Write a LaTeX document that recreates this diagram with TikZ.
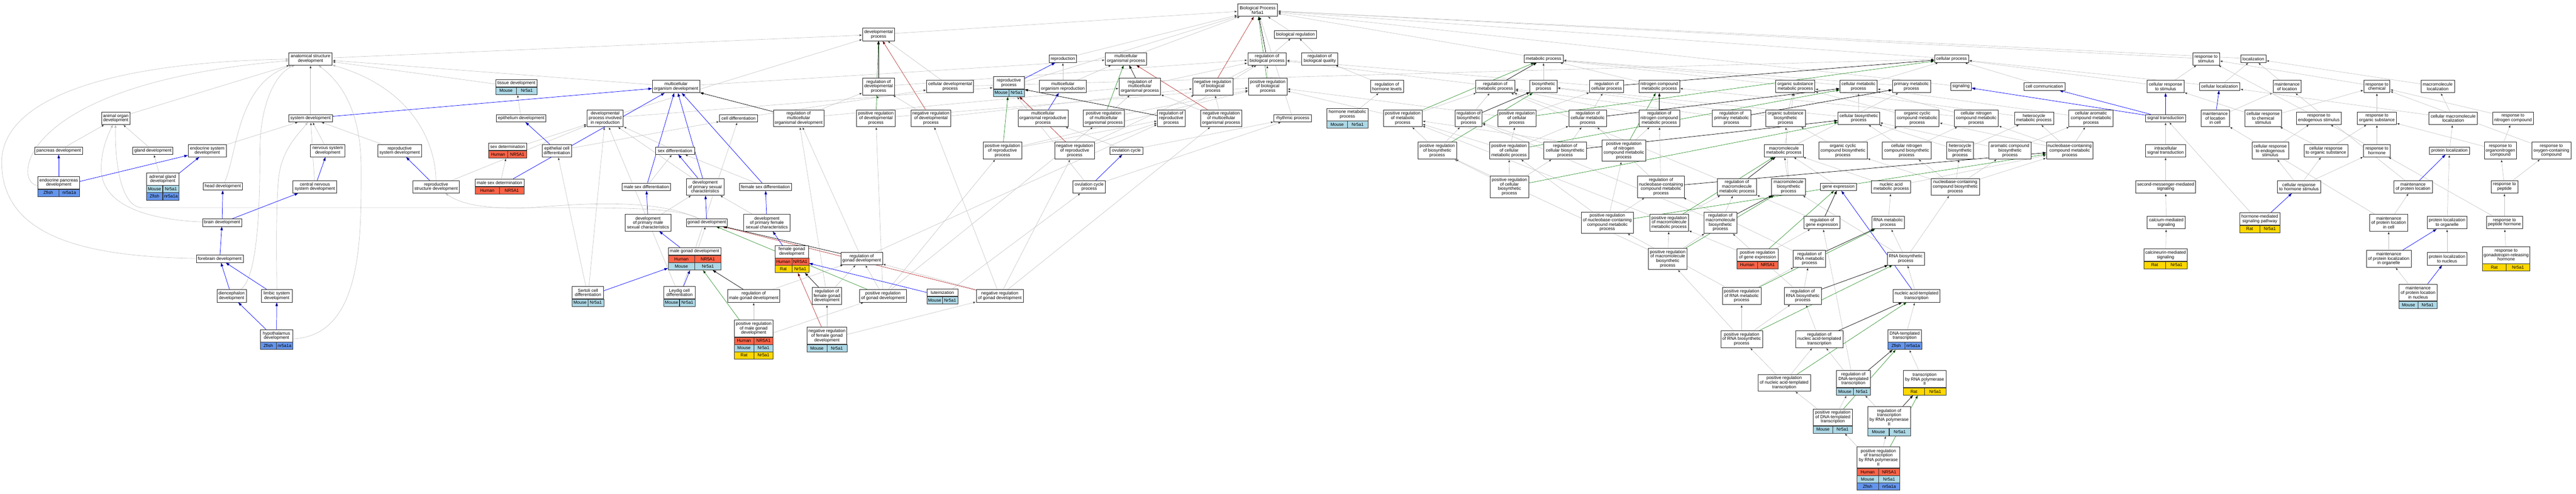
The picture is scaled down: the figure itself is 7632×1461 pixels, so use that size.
\documentclass[tikz,border=0pt]{standalone}
\usepackage{fontspec}
\setmainfont{Liberation Sans}
\usetikzlibrary{arrows.meta}
\usetikzlibrary{backgrounds}
\usetikzlibrary{fit}

\definecolor{human}{HTML}{FF6347}
\definecolor{mouse}{HTML}{ADD8E6}
\definecolor{zfish}{HTML}{6495ED}
\definecolor{rat}{HTML}{FFD700}
\definecolor{isagray}{HTML}{BEBEBE}
\definecolor{posgreen}{HTML}{228B22}
\definecolor{negred}{HTML}{B22222}

% one row of the gene table under a term: node, row, width, colour, species, gene
\newcommand{\orth}[6]{%
  \node[cell,fill=#4,minimum width={#3*0.5pt},anchor=north west,yshift={-(#2-1)*21.5pt}] (#1-#2a) at (#1-h.south west) {#5};
  \node[cell,fill=#4,minimum width={#3*0.5pt},anchor=north east,yshift={-(#2-1)*21.5pt}] (#1-#2b) at (#1-h.south east) {#6};}
\newcommand{\wrap}[2]{\node[fit=(#1-h)(#1-#2b),inner sep=0pt] (#1) {};}

\begin{document}
\begin{tikzpicture}[x=1pt,y=-1pt,
    sz/.style 2 args={minimum width=#1pt,minimum height=#2pt},
    cell/.style={draw=black!80,line width=0.8pt,inner sep=0pt,minimum height=21.5pt,font=\fontsize{13}{13.2}\selectfont},
    isa/.style={>={Triangle[length=9pt,width=6.5pt]},->,draw=isagray,line width=0.9pt},
    partof/.style={>={Triangle[length=11pt,width=7.5pt]},->,draw=blue,line width=1.1pt},
    posreg/.style={>={Triangle[length=10pt,width=7pt]},->,draw=posgreen,line width=1pt},
    negreg/.style={>={Triangle[length=10pt,width=7pt]},->,draw=negred,line width=1pt},
    regl/.style={>={Triangle[length=10pt,width=7pt]},->,draw=black,line width=1.1pt}]
  \useasboundingbox (0,0) rectangle (7632,1461);

  \begin{scope}[every node/.style={draw=black!85,line width=1.1pt,fill=white,inner sep=0pt,align=center,font=\fontsize{13}{13.2}\selectfont}]
    % development branch
    \node (asd) at (920,174) [sz={128}{37}] {anatomical structure\\development};
    \node (aod) at (343,350) [sz={84}{37}] {animal organ\\development};
    \node (sysdev) at (920,350) [sz={130}{22}] {system development};
    \node (pancdev) at (174,446) [sz={141}{22}] {pancreas development};
    \node (glanddev) at (453,446) [sz={119}{22}] {gland development};
    \node (endosys) at (614,446) [sz={113}{37}] {endocrine system\\development};
    \node (nervsys) at (971,446) [sz={102}{37}] {nervous system\\development};
    \node (reprosys) at (1184,446) [sz={130}{37}] {reproductive\\system development};
    \node (endopanc-h) at (174,541) [sz={124}{36}] {endocrine pancreas\\development};
    \node (adrenal-h) at (482,530) [sz={97}{36}] {adrenal gland\\development};
    \node (headdev) at (660,552) [sz={116}{22}] {head development};
    \node (cns) at (933,553) [sz={130}{37}] {central nervous\\system development};
    \node (reprostruct) at (1292,553) [sz={138}{37}] {reproductive\\structure development};
    \node (braindev) at (658,659) [sz={116}{22}] {brain development};
    \node (forebrain) at (651,766) [sz={139}{22}] {forebrain development};
    \node (dienceph) at (686,876) [sz={87}{37}] {diencephalon\\development};
    \node (limbic) at (820,876) [sz={91}{37}] {limbic system\\development};
    \node (hypothal-h) at (819,994) [sz={96}{36}] {hypothalamus\\development};

    \node (tissuedev-h) at (1530,246) [sz={123}{22}] {tissue development};
    \node (mod) at (2003,256) [sz={141}{37}] {multicellular\\organism development};
    \node (epithdev) at (1544,350) [sz={146}{22}] {epithelium development};
    \node (dpir) at (1793,350) [sz={107}{50}] {developmental\\process involved\\in reproduction};
    \node (celldiff) at (2188,350) [sz={112}{22}] {cell differentiation};
    \node (regmod) at (2366,350) [sz={150}{50}] {regulation of\\multicellular\\organismal development};
    \node (sexdet-h) at (1504,434) [sz={113}{22}] {sex determination};
    \node (epicelldiff) at (1650,446) [sz={87}{37}] {epithelial cell\\differentiation};
    \node (sexdiff) at (2000,446) [sz={115}{22}] {sex differentiation};
    \node (malesexdet-h) at (1480,541) [sz={145}{22}] {male sex determination};
    \node (malesexdiff) at (1915,553) [sz={144}{22}] {male sex differentiation};
    \node (dpsc) at (2089,553) [sz={111}{50}] {development\\of primary sexual\\characteristics};
    \node (femsexdiff) at (2268,553) [sz={155}{22}] {female sex differentiation};
    \node (dpmsc) at (1920,659) [sz={137}{50}] {development\\of primary male\\sexual characteristics};
    \node (gonaddev) at (2094,659) [sz={122}{22}] {gonad development};
    \node (dpfsc) at (2272,659) [sz={137}{50}] {development\\of primary female\\sexual characteristics};
    \node (malegonad-h) at (2058,744) [sz={156}{22}] {male gonad development};
    \node (femgonad-h) at (2346,745) [sz={100}{36}] {female gonad\\development};
    \node (reggonad) at (2553,765) [sz={123}{37}] {regulation of\\gonad development};
    \node (sertoli-h) at (1742,866) [sz={93}{36}] {Sertoli cell\\differentiation};
    \node (leydig-h) at (2013,866) [sz={93}{36}] {Leydig cell\\differentiation};
    \node (regmalegonad) at (2233,876) [sz={155}{37}] {regulation of\\male gonad development};
    \node (regfemgonad) at (2450,876) [sz={87}{50}] {regulation of\\female gonad\\development};
    \node (posregmalegonad-h) at (2233,972) [sz={115}{50}] {positive regulation\\of male gonad\\development};
    \node (negregfemgonad-h) at (2450,994) [sz={118}{50}] {negative regulation\\of female gonad\\development};
    \node (posreggonad) at (2616,876) [sz={138}{37}] {positive regulation\\of gonad development};
    \node (luteinization-h) at (2792,866) [sz={91}{22}] {luteinization};
    \node (negreggonad) at (2962,876) [sz={139}{37}] {negative regulation\\of gonad development};

    % top of the graph
    \node (devproc) at (2603,102) [sz={95}{37}] {developmental\\process};
    \node (bp) at (3726,30) [sz={118}{37}] {Biological Process\\Nr5a1};
    \node (bioreg) at (3838,102) [sz={125}{22}] {biological regulation};
    \node (reproduction) at (3149,174) [sz={80}{22}] {reproduction};
    \node (mop) at (3336,174) [sz={123}{37}] {multicellular\\organismal process};
    \node (regbp) at (3754,174) [sz={114}{37}] {regulation of\\biological process};
    \node (regbq) at (3910,174) [sz={107}{37}] {regulation of\\biological quality};
    \node (regdevproc) at (2603,256) [sz={95}{50}] {regulation of\\developmental\\process};
    \node (celldevproc) at (2815,256) [sz={139}{37}] {cellular developmental\\process};
    \node (reproproc-h) at (2989,245) [sz={92}{36}] {reproductive\\process};
    \node (mor) at (3149,256) [sz={139}{37}] {multicellular\\organism reproduction};
    \node (regmop) at (3377,256) [sz={123}{50}] {regulation of\\multicellular\\organismal process};
    \node (negregbp) at (3593,256) [sz={119}{50}] {negative regulation\\of biological\\process};
    \node (posregbp) at (3756,256) [sz={114}{50}] {positive regulation\\of biological\\process};
    \node (posregdevproc) at (2595,350) [sz={115}{50}] {positive regulation\\of developmental\\process};
    \node (negregdevproc) at (2758,350) [sz={118}{50}] {negative regulation\\of developmental\\process};
    \node (morp) at (3090,350) [sz={148}{50}] {multicellular\\organismal reproductive\\process};
    \node (posregmop) at (3270,350) [sz={123}{50}] {positive regulation\\of multicellular\\organismal process};
    \node (regreproproc) at (3470,350) [sz={82}{50}] {regulation of\\reproductive\\process};
    \node (negregmop) at (3618,350) [sz={123}{50}] {negative regulation\\of multicellular\\organismal process};
    \node (rhythmic) at (3830,350) [sz={111}{22}] {rhythmic process};
    \node (posregreproproc) at (2970,446) [sz={115}{50}] {positive regulation\\of reproductive\\process};
    \node (negregreproproc) at (3184,446) [sz={118}{50}] {negative regulation\\of reproductive\\process};
    \node (ovcycle) at (3337,446) [sz={97}{22}] {ovulation cycle};
    \node (ovcycleproc) at (3227,553) [sz={96}{37}] {ovulation cycle\\process};

    % metabolism
    \node (metproc) at (4573,174) [sz={116}{22}] {metabolic process};
    \node (reghormone) at (4109,256) [sz={98}{37}] {regulation of\\hormone levels};
    \node (regmetproc) at (4430,256) [sz={116}{37}] {regulation of\\metabolic process};
    \node (biosynproc) at (4573,256) [sz={80}{37}] {biosynthetic\\process};
    \node (regcellproc) at (4760,256) [sz={100}{37}] {regulation of\\cellular process};
    \node (ncmp) at (4916,256) [sz={120}{37}] {nitrogen compound\\metabolic process};
    \node (hormonemet-h) at (3992,339) [sz={121}{36}] {hormone metabolic\\process};
    \node (posregmetproc) at (4156,350) [sz={114}{50}] {positive regulation\\of metabolic\\process};
    \node (regbiosyn) at (4351,350) [sz={80}{50}] {regulation of\\biosynthetic\\process};
    \node (posregcellproc) at (4494,350) [sz={114}{50}] {positive regulation\\of cellular\\process};
    \node (regcellmet) at (4704,350) [sz={111}{50}] {regulation of\\cellular metabolic\\process};
    \node (regncmp) at (4916,350) [sz={120}{50}] {regulation of\\nitrogen compound\\metabolic process};
    \node (posregbiosyn) at (4258,446) [sz={115}{50}] {positive regulation\\of biosynthetic\\process};
    \node (posregcellmet) at (4471,446) [sz={116}{50}] {positive regulation\\of cellular\\metabolic process};
    \node (regcellbiosyn) at (4637,446) [sz={126}{50}] {regulation of\\cellular biosynthetic\\process};
    \node (posregncmp) at (4811,446) [sz={130}{63}] {positive regulation\\of nitrogen\\compound metabolic\\process};
    \node (posregcellbiosyn) at (4472,553) [sz={114}{63}] {positive regulation\\of cellular\\biosynthetic\\process};
    \node (regnccmp) at (4921,553) [sz={138}{63}] {regulation of\\nucleobase-containing\\compound metabolic\\process};
    \node (posregnccmp) at (4762,659) [sz={155}{63}] {positive regulation\\of nucleobase-containing\\compound metabolic\\process};
    \node (posregmmp) at (4945,659) [sz={115}{50}] {positive regulation\\of macromolecule\\metabolic process};
    \node (regmbp) at (5097,659) [sz={98}{63}] {regulation of\\macromolecule\\biosynthetic\\process};
    \node (posregmbp) at (4941,766) [sz={115}{63}] {positive regulation\\of macromolecule\\biosynthetic\\process};

    \node (cellproc) at (5782,174) [sz={101}{22}] {cellular process};
    \node (osmp) at (5319,256) [sz={116}{37}] {organic substance\\metabolic process};
    \node (cellmet) at (5506,256) [sz={110}{37}] {cellular metabolic\\process};
    \node (primmet) at (5663,256) [sz={113}{37}] {primary metabolic\\process};
    \node (signaling) at (5810,256) [sz={61}{22}] {signaling};
    \node (cellcomm) at (6057,256) [sz={123}{22}] {cell communication};
    \node (regprimmet) at (5130,350) [sz={114}{50}] {regulation of\\primary metabolic\\process};
    \node (osbp) at (5290,350) [sz={117}{50}] {organic substance\\biosynthetic\\process};
    \node (cellbiosyn) at (5507,350) [sz={123}{37}] {cellular biosynthetic\\process};
    \node (occmp) at (5680,350) [sz={130}{50}] {organic cyclic\\compound metabolic\\process};
    \node (cncmp) at (5855,350) [sz={131}{50}] {cellular nitrogen\\compound metabolic\\process};
    \node (hetmet) at (6026,350) [sz={116}{37}] {heterocycle\\metabolic process};
    \node (camp) at (6195,350) [sz={131}{50}] {cellular aromatic\\compound metabolic\\process};
    \node (mmp) at (5285,446) [sz={115}{37}] {macromolecule\\metabolic process};
    \node (occbp) at (5460,446) [sz={143}{50}] {organic cyclic\\compound biosynthetic\\process};
    \node (cncbp) at (5649,446) [sz={144}{50}] {cellular nitrogen\\compound biosynthetic\\process};
    \node (hetbp) at (5807,446) [sz={80}{50}] {heterocycle\\biosynthetic\\process};
    \node (acbp) at (5955,446) [sz={124}{50}] {aromatic compound\\biosynthetic\\process};
    \node (nccmp) at (6132,446) [sz={138}{50}] {nucleobase-containing\\compound metabolic\\process};
    \node (regmmp) at (5146,553) [sz={116}{50}] {regulation of\\macromolecule\\metabolic process};
    \node (mbp) at (5299,553) [sz={100}{50}] {macromolecule\\biosynthetic\\process};
    \node (geneexpr) at (5447,553) [sz={106}{22}] {gene expression};
    \node (namet) at (5603,553) [sz={116}{37}] {nucleic acid\\metabolic process};
    \node (nccbp) at (5793,553) [sz={144}{50}] {nucleobase-containing\\compound biosynthetic\\process};
    \node (reggeneexpr) at (5398,659) [sz={106}{37}] {regulation of\\gene expression};
    \node (rnamet) at (5594,659) [sz={96}{37}] {RNA metabolic\\process};

    % transcription
    \node (posreggeneexpr-h) at (5207,755) [sz={121}{36}] {positive regulation\\of gene expression};
    \node (regrnamet) at (5361,766) [sz={96}{50}] {regulation of\\RNA metabolic\\process};
    \node (rnabiosyn) at (5646,766) [sz={110}{37}] {RNA biosynthetic\\process};
    \node (posregrnamet) at (5160,876) [sz={114}{50}] {positive regulation\\of RNA metabolic\\process};
    \node (regrnabiosyn) at (5341,876) [sz={110}{50}] {regulation of\\RNA biosynthetic\\process};
    \node (natt) at (5678,876) [sz={140}{37}] {nucleic acid-templated\\transcription};
    \node (posregrnabiosyn) at (5160,1004) [sz={124}{50}] {positive regulation\\of RNA biosynthetic\\process};
    \node (regnatt) at (5390,1004) [sz={140}{50}] {regulation of\\nucleic acid-templated\\transcription};
    \node (dtt-h) at (5643,994) [sz={100}{36}] {DNA-templated\\transcription};
    \node (posregnatt) at (5286,1133) [sz={155}{50}] {positive regulation\\of nucleic acid-templated\\transcription};
    \node (regdtt-h) at (5491,1122) [sz={100}{50}] {regulation of\\DNA-templated\\transcription};
    \node (trp2-h) at (5702,1122) [sz={126}{50}] {transcription\\by RNA polymerase\\II};
    \node (posregdtt-h) at (5430,1235) [sz={116}{49}] {positive regulation\\of DNA-templated\\transcription};
    \node (regtrp2-h) at (5597,1235) [sz={126}{64}] {regulation of\\transcription\\by RNA polymerase\\II};
    \node (posregtrp2-h) at (5565,1354) [sz={127}{63}] {positive regulation\\of transcription\\by RNA polymerase\\II};

    % stimulus, signalling, localization
    \node (respstim) at (6536,174) [sz={79}{37}] {response to\\stimulus};
    \node (localization) at (6676,174) [sz={74}{22}] {localization};
    \node (cellrespstim) at (6416,256) [sz={109}{37}] {cellular response\\to stimulus};
    \node (cellloc) at (6576,256) [sz={120}{22}] {cellular localization};
    \node (maintloc) at (6776,256) [sz={83}{37}] {maintenance\\of location};
    \node (respchem) at (7042,256) [sz={77}{37}] {response to\\chemical};
    \node (macroloc) at (7222,256) [sz={99}{37}] {macromolecule\\localization};
    \node (sigtrans) at (6416,350) [sz={119}{22}] {signal transduction};
    \node (maintloccell) at (6563,350) [sz={84}{50}] {maintenance\\of location\\in cell};
    \node (cellrespchem) at (6705,350) [sz={108}{50}] {cellular response\\to chemical\\stimulus};
    \node (respendo) at (6870,350) [sz={133}{37}] {response to\\endogenous stimulus};
    \node (resporg) at (7042,350) [sz={115}{37}] {response to\\organic substance};
    \node (cellmacroloc) at (7268,350) [sz={143}{37}] {cellular macromolecule\\localization};
    \node (respnitro) at (7445,350) [sz={121}{37}] {response to\\nitrogen compound};
    \node (intrasig) at (6416,446) [sz={119}{37}] {intracellular\\signal transduction};
    \node (cellrespendo) at (6726,446) [sz={108}{50}] {cellular response\\to endogenous\\stimulus};
    \node (cellresporg) at (6891,446) [sz={130}{37}] {cellular response\\to organic substance};
    \node (resphormone) at (7042,446) [sz={79}{37}] {response to\\hormone};
    \node (protloc) at (7257,446) [sz={118}{22}] {protein localization};
    \node (resporgnitro) at (7408,446) [sz={95}{50}] {response to\\organonitrogen\\compound};
    \node (respoxy) at (7559,446) [sz={116}{50}] {response to\\oxygen-containing\\compound};
    \node (secmess) at (6416,553) [sz={177}{37}] {second-messenger-mediated\\signaling};
    \node (cellresphorm) at (6811,553) [sz={128}{37}] {cellular response\\to hormone stimulus};
    \node (maintprotloc) at (7149,553) [sz={114}{37}] {maintenance\\of protein location};
    \node (resppeptide) at (7420,553) [sz={79}{37}] {response to\\peptide};
    \node (calcium) at (6418,659) [sz={113}{37}] {calcium-mediated\\signaling};
    \node (hmsp-h) at (6695,648) [sz={119}{36}] {hormone-mediated\\signaling pathway};
    \node (maintprotloccell) at (7077,659) [sz={113}{50}] {maintenance\\of protein location\\in cell};
    \node (protlocorg) at (7250,659) [sz={118}{37}] {protein localization\\to organelle};
    \node (resppephorm) at (7420,659) [sz={106}{37}] {response to\\peptide hormone};
    \node (calcineurin-h) at (6416,755) [sz={129}{36}] {calcineurin-mediated\\signaling};
    \node (maintprotlocorg) at (7077,766) [sz={133}{50}] {maintenance\\of protein localization\\in organelle};
    \node (protlocnuc) at (7250,766) [sz={118}{37}] {protein localization\\to nucleus};
    \node (respgnrh-h) at (7425,755) [sz={140}{50}] {response to\\gonadotropin-releasing\\hormone};
    \node (maintprotlocnuc-h) at (7164,866) [sz={113}{50}] {maintenance\\of protein location\\in nucleus};
  \end{scope}

  % gene tables
  \orth{endopanc}{1}{124}{zfish}{Zfish}{nr5a1a} \wrap{endopanc}{1}
  \orth{adrenal}{1}{97}{mouse}{Mouse}{Nr5a1} \orth{adrenal}{2}{97}{zfish}{Zfish}{nr5a1a} \wrap{adrenal}{2}
  \orth{hypothal}{1}{96}{zfish}{Zfish}{nr5a1a} \wrap{hypothal}{1}
  \orth{tissuedev}{1}{123}{mouse}{Mouse}{Nr5a1} \wrap{tissuedev}{1}
  \orth{sexdet}{1}{113}{human}{Human}{NR5A1} \wrap{sexdet}{1}
  \orth{malesexdet}{1}{145}{human}{Human}{NR5A1} \wrap{malesexdet}{1}
  \orth{malegonad}{1}{156}{human}{Human}{NR5A1} \orth{malegonad}{2}{156}{mouse}{Mouse}{Nr5a1} \wrap{malegonad}{2}
  \orth{femgonad}{1}{100}{human}{Human}{NR5A1} \orth{femgonad}{2}{100}{rat}{Rat}{Nr5a1} \wrap{femgonad}{2}
  \orth{sertoli}{1}{93}{mouse}{Mouse}{Nr5a1} \wrap{sertoli}{1}
  \orth{leydig}{1}{93}{mouse}{Mouse}{Nr5a1} \wrap{leydig}{1}
  \orth{posregmalegonad}{1}{115}{human}{Human}{NR5A1} \orth{posregmalegonad}{2}{115}{mouse}{Mouse}{Nr5a1}
  \orth{posregmalegonad}{3}{115}{rat}{Rat}{Nr5a1} \wrap{posregmalegonad}{3}
  \orth{negregfemgonad}{1}{118}{mouse}{Mouse}{Nr5a1} \wrap{negregfemgonad}{1}
  \orth{luteinization}{1}{91}{mouse}{Mouse}{Nr5a1} \wrap{luteinization}{1}
  \orth{reproproc}{1}{92}{mouse}{Mouse}{Nr5a1} \wrap{reproproc}{1}
  \orth{hormonemet}{1}{121}{mouse}{Mouse}{Nr5a1} \wrap{hormonemet}{1}
  \orth{posreggeneexpr}{1}{121}{human}{Human}{NR5A1} \wrap{posreggeneexpr}{1}
  \orth{dtt}{1}{100}{zfish}{Zfish}{nr5a1a} \wrap{dtt}{1}
  \orth{regdtt}{1}{100}{mouse}{Mouse}{Nr5a1} \wrap{regdtt}{1}
  \orth{trp2}{1}{126}{rat}{Rat}{Nr5a1} \wrap{trp2}{1}
  \orth{posregdtt}{1}{116}{mouse}{Mouse}{Nr5a1} \wrap{posregdtt}{1}
  \orth{regtrp2}{1}{126}{mouse}{Mouse}{Nr5a1} \wrap{regtrp2}{1}
  \orth{posregtrp2}{1}{127}{human}{Human}{NR5A1} \orth{posregtrp2}{2}{127}{mouse}{Mouse}{Nr5a1}
  \orth{posregtrp2}{3}{127}{zfish}{Zfish}{nr5a1a} \wrap{posregtrp2}{3}
  \orth{hmsp}{1}{119}{rat}{Rat}{Nr5a1} \wrap{hmsp}{1}
  \orth{calcineurin}{1}{129}{rat}{Rat}{Nr5a1} \wrap{calcineurin}{1}
  \orth{respgnrh}{1}{140}{rat}{Rat}{Nr5a1} \wrap{respgnrh}{1}
  \orth{maintprotlocnuc}{1}{113}{mouse}{Mouse}{Nr5a1} \wrap{maintprotlocnuc}{1}

  \begin{scope}[on background layer]
    % is_a
    \path [isa] (asd) edge (devproc);
    \path [isa] (aod) edge (asd);
    \path [isa] (sysdev) edge (asd);
    \path [isa] (endopanc) .. controls (40,545) and (40,250) .. (asd);
    \path [isa] (forebrain) .. controls (250,760) and (5,700) .. (5,480) .. controls (5,300) and (300,185) .. (asd);
    \path [isa] (headdev) .. controls (705,450) and (700,250) .. (asd);
    \path [isa] (dienceph) .. controls (765,820) and (770,600) .. (770,450) .. controls (770,300) and (820,215) .. (asd);
    \path [isa] (limbic) .. controls (820,800) and (815,560) .. (830,500) .. controls (845,430) and (895,385) .. (sysdev);
    \path [isa] (hypothal) .. controls (1075,994) and (1070,700) .. (1070,500) .. controls (1070,300) and (990,230) .. (asd);
    \path [isa] (mod) edge (asd) edge (mop);
    \path [isa] (tissuedev) edge (asd);
    \path [isa] (reprostruct) .. controls (1290,420) and (1220,260) .. (asd);
    \path [isa] (reprostruct) edge (dpir);
    \path [isa] (pancdev) edge (aod);
    \path [isa] (glanddev) edge (aod);
    \path [isa] (braindev) .. controls (420,650) and (300,600) .. (300,500) .. controls (300,440) and (320,400) .. (aod);
    \path [isa] (gonaddev) .. controls (2020,620) and (1900,615) .. (1700,615) -- (420,615) .. controls (350,610) and (340,450) .. (aod);
    \path [isa] (gonaddev) .. controls (1950,590) and (1750,600) .. (1570,615) .. controls (1420,620) and (1360,600) .. (reprostruct);
    \path [isa] (adrenal) edge (glanddev);
    \path [isa] (endosys) edge (sysdev);
    \path [isa] (nervsys) edge (sysdev);
    \path [isa] (cns) edge (sysdev);
    \path [isa] (reprosys) edge (sysdev);
    \path [isa] (epithdev) edge (tissuedev);
    \path [isa] (epicelldiff) edge (celldiff);
    \path [isa] (sexdet) edge (dpir);
    \path [isa] (malesexdet) edge (sexdet);
    \path [isa] (dpsc) edge (dpir);
    \path [isa] (sexdiff) edge (dpir);
    \path [isa] (sertoli) edge (epicelldiff) edge (dpir);
    \path [isa] (leydig) edge (dpir) edge (celldiff);
    \path [isa] (malesexdiff) edge (sexdiff);
    \path [isa] (femsexdiff) edge (sexdiff);
    \path [isa] (dpmsc) edge (dpsc);
    \path [isa] (dpfsc) edge (dpsc);
    \path [isa] (malegonad) edge (gonaddev);
    \path [isa] (dpir) edge (devproc) edge (reproproc);
    \path [isa] (regfemgonad) edge (regmod) edge (reggonad);
    \path [isa] (regmalegonad) edge (reggonad);
    \path [isa] (posregmalegonad) edge (regmalegonad) edge (posreggonad);
    \path [isa] (negregfemgonad) edge (regfemgonad) edge (negreggonad);
    \path [isa] (posreggonad) edge (reggonad) edge (posregdevproc) edge (posregmop) edge (posregreproproc);
    \path [isa] (negreggonad) edge (reggonad) edge (negregdevproc) edge (negregmop) edge (negregreproproc);
    \path [isa] (reggonad) edge (regmod) edge (regreproproc);
    \path [isa] (luteinization) edge (ovcycleproc);
    \path [isa] (celldiff) edge (celldevproc);
    \path [isa] (celldevproc) edge (devproc) edge (cellproc);
    \path [isa] (regmod) edge (regdevproc) edge (regmop);
    \path [isa] (regdevproc) edge (regbp);
    \path [isa] (posregdevproc) edge (regdevproc) edge (posregbp);
    \path [isa] (negregdevproc) edge (regdevproc) edge (negregbp);
    \path [isa] (reproproc) edge (bp);
    \path [isa] (reproduction) edge (bp);
    \path [isa] (mor) edge (reproduction) edge (mop);
    \path [isa] (mop) edge (bp);
    \path [isa] (morp) edge (reproproc);
    \path [isa] (regmop) edge (regbp);
    \path [isa] (posregmop) edge (regmop) edge (posregbp);
    \path [isa] (negregmop) edge (regmop) edge (negregbp);
    \path [isa] (regreproproc) edge (regbp);
    \path [isa] (posregreproproc) edge (regreproproc) edge (posregbp);
    \path [isa] (negregreproproc) edge (regreproproc) edge (negregbp);
    \path [isa] (negregbp) edge (regbp);
    \path [isa] (posregbp) edge (regbp);
    \path [isa] (regbp) edge (bioreg);
    \path [isa] (bioreg) edge (bp);
    \path [isa] (regbq) edge (bioreg);
    \path [isa] (ovcycle) edge (rhythmic) edge (morp);
    \path [isa] (ovcycleproc) edge (rhythmic) edge (reproproc);
    \path [isa] (rhythmic) edge (bp);
    \path [isa] (devproc) edge (bp);
    \path [isa] (metproc) edge (bp);
    \path [isa] (cellproc) edge (bp);
    \path [isa] (respstim) edge (bp);
    \path [isa] (localization) edge (bp);
    \path [isa] (signaling) edge (bp);
    \path [isa] (reghormone) edge (regbq);
    \path [isa] (hormonemet) edge (reghormone);
    \path [isa] (regmetproc) edge (regbp);
    \path [isa] (posregmetproc) edge (posregbp) edge (regmetproc);
    \path [isa] (regbiosyn) edge (regmetproc);
    \path [isa] (posregbiosyn) edge (posregmetproc) edge (regbiosyn);
    \path [isa] (posregcellproc) edge (posregbp) edge (regcellproc);
    \path [isa] (regcellproc) edge (regbp);
    \path [isa] (biosynproc) edge (metproc);
    \path [isa] (ncmp) edge (metproc);
    \path [isa] (regcellmet) edge (regmetproc) edge (regcellproc);
    \path [isa] (regncmp) edge (regmetproc);
    \path [isa] (posregcellmet) edge (posregmetproc) edge (posregcellproc) edge (regcellmet);
    \path [isa] (regcellbiosyn) edge (regbiosyn) edge (regcellmet);
    \path [isa] (posregncmp) edge (regncmp) edge (posregmetproc);
    \path [isa] (posregcellbiosyn) edge (posregbiosyn) edge (posregcellmet) edge (regcellbiosyn);
    \path [isa] (regnccmp) edge (regcellmet) edge (regncmp);
    \path [isa] (posregnccmp) edge (posregncmp) edge (regnccmp) edge (posregcellmet);
    \path [isa] (posregmmp) edge (posregmetproc) edge (regmmp);
    \path [isa] (posregmbp) edge (posregmmp) edge (posregbiosyn) edge (regmbp);
    \path [isa] (osmp) edge (metproc);
    \path [isa] (cellmet) edge (metproc) edge (cellproc);
    \path [isa] (primmet) edge (metproc);
    \path [isa] (cellcomm) edge (cellproc);
    \path [isa] (regprimmet) edge (regmetproc);
    \path [isa] (osbp) edge (osmp) edge (biosynproc);
    \path [isa] (cellbiosyn) edge (cellmet) edge (biosynproc);
    \path [isa] (occmp) edge (osmp);
    \path [isa] (cncmp) edge (ncmp) edge (cellmet);
    \path [isa] (hetmet) edge (osmp);
    \path [isa] (camp) edge (cellmet);
    \path [isa] (mmp) edge (osmp) edge (primmet);
    \path [isa] (occbp) edge (occmp) edge (osbp);
    \path [isa] (cncbp) edge (cncmp) edge (cellbiosyn);
    \path [isa] (hetbp) edge (hetmet) edge (cellbiosyn);
    \path [isa] (acbp) edge (camp) edge (cellbiosyn);
    \path [isa] (nccmp) edge (hetmet) edge (camp) edge (cncmp) edge (occmp);
    \path [isa] (regmmp) edge (regmetproc);
    \path [isa] (mbp) edge (mmp) edge (osbp);
    \path [isa] (geneexpr) edge (mmp);
    \path [isa] (namet) edge (nccmp) edge (mmp);
    \path [isa] (nccbp) edge (nccmp) edge (hetbp) edge (acbp) edge (cncbp) edge (occbp);
    \path [isa] (regmbp) edge (regmmp) edge (regbiosyn);
    \path [isa] (reggeneexpr) edge (regmmp);
    \path [isa] (rnamet) edge (namet);
    \path [isa] (regrnamet) edge (regnccmp);
    \path [isa] (rnabiosyn) edge (rnamet) edge (nccbp) edge (mbp);
    \path [isa] (posregrnamet) edge (regrnamet) edge (posregnccmp);
    \path [isa] (regrnabiosyn) edge (regrnamet) edge (regmbp);
    \path [isa] (natt) edge (rnabiosyn);
    \path [isa] (posregrnabiosyn) edge (posregrnamet) edge (regrnabiosyn) edge (posregmbp);
    \path [isa] (regnatt) edge (regrnabiosyn);
    \path [isa] (posregnatt) edge (posregrnabiosyn) edge (regnatt);
    \path [isa] (regdtt) edge (regnatt) edge (reggeneexpr);
    \path [isa] (dtt) edge (natt);
    \path [isa] (trp2) edge (dtt);
    \path [isa] (posregdtt) edge (regdtt) edge (posregnatt);
    \path [isa] (regtrp2) edge (regdtt);
    \path [isa] (posregtrp2) edge (posregdtt) edge (regtrp2);
    \path [isa] (posreggeneexpr) edge (reggeneexpr) edge (posregmmp);
    \path [isa] (cellrespstim) edge (respstim) edge (cellproc);
    \path [isa] (cellloc) edge (localization) edge (cellproc);
    \path [isa] (maintloc) edge (localization);
    \path [isa] (respchem) edge (respstim);
    \path [isa] (macroloc) edge (localization);
    \path [isa] (maintloccell) edge (maintloc);
    \path [isa] (cellrespchem) edge (respchem) edge (cellrespstim);
    \path [isa] (respendo) edge (respstim);
    \path [isa] (resporg) edge (respchem);
    \path [isa] (cellmacroloc) edge (cellloc) edge (macroloc);
    \path [isa] (respnitro) edge (respchem);
    \path [isa] (intrasig) edge (sigtrans);
    \path [isa] (cellrespendo) edge (respendo);
    \path [isa] (cellresporg) edge (resporg) edge (cellrespchem);
    \path [isa] (resphormone) edge (respendo) edge (resporg);
    \path [isa] (protloc) edge (cellmacroloc);
    \path [isa] (resporgnitro) edge (respnitro) edge (resporg);
    \path [isa] (respoxy) edge (respchem);
    \path [isa] (secmess) edge (intrasig);
    \path [isa] (cellresphorm) edge (cellrespendo) edge (cellresporg) edge (resphormone);
    \path [isa] (maintprotloc) edge (maintloc);
    \path [isa] (resppeptide) edge (resporgnitro) edge (respoxy);
    \path [isa] (calcium) edge (secmess);
    \path [isa] (hmsp) edge (sigtrans);
    \path [isa] (maintprotloccell) edge (maintprotloc) edge (maintloccell);
    \path [isa] (protlocorg) edge (protloc);
    \path [isa] (resppephorm) edge (resppeptide) edge (resphormone);
    \path [isa] (calcineurin) edge (calcium);
    \path [isa] (maintprotlocorg) edge (maintprotloccell);
    \path [isa] (protlocnuc) edge (protlocorg);
    \path [isa] (respgnrh) edge (resppephorm);
    \path [isa] (maintprotlocnuc) edge (maintprotlocorg);

    % part_of
    \path [partof] (endopanc) edge (pancdev) edge (endosys);
    \path [partof] (adrenal) edge (endosys);
    \path [partof] (cns) edge (nervsys);
    \path [partof] (reprostruct) edge (reprosys);
    \path [partof] (braindev) edge (headdev) edge (cns);
    \path [partof] (forebrain) edge (braindev);
    \path [partof] (dienceph) edge (forebrain);
    \path [partof] (limbic) edge (forebrain);
    \path [partof] (hypothal) edge (dienceph) edge (limbic);
    \path [partof] (sysdev) edge (mod);
    \path [partof] (malesexdet) edge (mod);
    \path [partof] (epicelldiff) edge (epithdev);
    \path [partof] (malesexdiff) edge (mod);
    \path [partof] (dpsc) edge (mod) edge (sexdiff);
    \path [partof] (femsexdiff) edge (mod);
    \path [partof] (dpmsc) edge (malesexdiff);
    \path [partof] (gonaddev) edge (dpsc);
    \path [partof] (dpfsc) edge (femsexdiff);
    \path [partof] (malegonad) edge (dpmsc);
    \path [partof] (femgonad) edge (dpfsc);
    \path [partof] (sertoli) edge (malegonad);
    \path [partof] (leydig) edge (malegonad);
    \path [partof] (luteinization) edge (femgonad);
    \path [partof] (reproproc) edge (reproduction);
    \path [partof] (morp) edge (mor);
    \path [partof] (ovcycleproc) edge (ovcycle);
    \path [partof] (sigtrans) edge (signaling) edge (cellcomm) edge (cellrespstim);
    \path [partof] (maintloccell) edge (cellloc);
    \path [partof] (hmsp) edge (cellresphorm);
    \path [partof] (maintprotloc) edge (protloc);
    \path [partof] (maintprotlocorg) edge (protlocorg);
    \path [partof] (maintprotlocnuc) edge (protlocnuc);
    \path [partof] (natt) edge (geneexpr);

    % positively regulates
    \path [posreg] (posregdevproc) edge (devproc);
    \path [posreg] (posregbp) edge (bp);
    \path [posreg] (posregmop) edge (mop);
    \path [posreg] (posregreproproc) edge (reproproc);
    \path [posreg] (posreggonad) edge (gonaddev);
    \path [posreg] (posregmalegonad) edge (malegonad);
    \path [posreg] (posregmetproc) edge (metproc);
    \path [posreg] (posregbiosyn) edge (biosynproc);
    \path [posreg] (posregcellproc) edge (cellproc);
    \path [posreg] (posregcellmet) edge (cellmet);
    \path [posreg] (posregncmp) edge (ncmp);
    \path [posreg] (posregcellbiosyn) edge (cellbiosyn);
    \path [posreg] (posregnccmp) edge (nccmp);
    \path [posreg] (posregmmp) edge (mmp);
    \path [posreg] (posregmbp) edge (mbp);
    \path [posreg] (posreggeneexpr) edge (geneexpr);
    \path [posreg] (posregrnamet) edge (rnamet);
    \path [posreg] (posregrnabiosyn) edge (rnabiosyn);
    \path [posreg] (posregnatt) edge (natt);
    \path [posreg] (posregdtt) edge (dtt);
    \path [posreg] (posregtrp2) edge (trp2);

    % negatively regulates
    \path [negreg] (negregdevproc) edge (devproc);
    \path [negreg] (negregbp) edge (bp);
    \path [negreg] (negregmop) edge (mop);
    \path [negreg] (negregreproproc) edge (reproproc);
    \path [negreg] (negreggonad) edge (gonaddev);
    \path [negreg] (negregfemgonad) edge (femgonad);

    % regulates
    \path [regl] (regdevproc) edge (devproc);
    \path [regl] (regbp) edge (bp);
    \path [regl] (regmop) edge (mop);
    \path [regl] (regmod) edge (mod);
    \path [regl] (regreproproc) edge (reproproc);
    \path [regl] (reggonad) edge (gonaddev);
    \path [regl] (regmalegonad) edge (malegonad);
    \path [regl] (regfemgonad) edge (femgonad);
    \path [regl] (regmetproc) edge (metproc);
    \path [regl] (regbiosyn) edge (biosynproc);
    \path [regl] (regcellproc) edge (cellproc);
    \path [regl] (regcellmet) edge (cellmet);
    \path [regl] (regncmp) edge (ncmp);
    \path [regl] (regcellbiosyn) edge (cellbiosyn);
    \path [regl] (regnccmp) edge (nccmp);
    \path [regl] (regmmp) edge (mmp);
    \path [regl] (regmbp) edge (mbp);
    \path [regl] (reggeneexpr) edge (geneexpr);
    \path [regl] (regprimmet) edge (primmet);
    \path [regl] (regrnamet) edge (rnamet);
    \path [regl] (regrnabiosyn) edge (rnabiosyn);
    \path [regl] (regnatt) edge (natt);
    \path [regl] (regdtt) edge (dtt);
    \path [regl] (regtrp2) edge (trp2);
  \end{scope}
\end{tikzpicture}
\end{document}
